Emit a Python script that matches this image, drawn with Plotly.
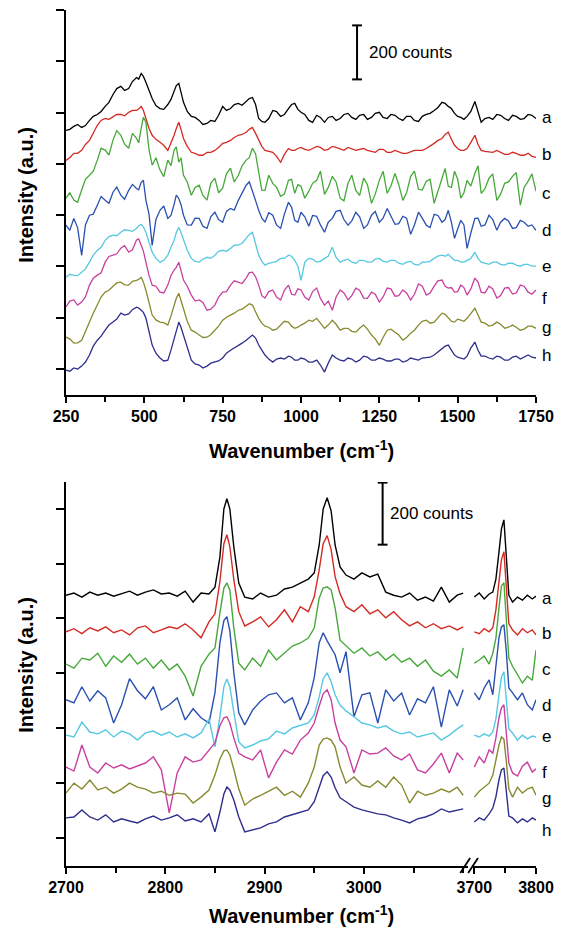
import plotly.graph_objects as go

# ---------------- data ----------------
LABELS = ["a", "b", "c", "d", "e", "f", "g", "h"]
COLORS = ["#000000", "#d42a24", "#47a83a", "#2a50b0", "#55c8e2", "#c8409f", "#878a2e", "#2e2e8c"]

# Top panel: 250-1750 cm-1 (counts, relative to each trace's offset)
X_TOP = [250, 275, 300, 325, 350, 375, 400, 425, 450, 475, 490, 505, 525, 550, 575, 595, 610, 625, 650, 675,
         700, 725, 750, 775, 800, 825, 845, 865, 885, 910, 935, 960, 980, 1000, 1025, 1050, 1075, 1100, 1125, 1150,
         1175, 1200, 1225, 1250, 1275, 1300, 1325, 1350, 1375, 1400, 1425, 1450, 1470, 1490, 1510, 1530, 1555, 1575,
         1600, 1625, 1650, 1675, 1700, 1725, 1750]
X_TOP_MID = [262, 287, 312, 337, 362, 387, 412, 437, 462, 482, 497, 515, 537, 562, 585, 602, 617, 637, 662, 687,
             712, 737, 762, 787, 812, 835, 855, 875, 897, 922, 947, 970, 990, 1012, 1037, 1062, 1087, 1112, 1137,
             1162, 1187, 1212, 1237, 1262, 1287, 1312, 1337, 1362, 1387, 1412, 1437, 1460, 1480, 1500, 1520, 1542,
             1565, 1587, 1612, 1637, 1662, 1687, 1712, 1737]

TOP_A = [0, 15, 11, 37, 59, 89, 133, 163, 155, 196, 211, 178, 118, 81, 96, 148, 174, 104, 52, 37,
         26, 33, 89, 81, 100, 107, 122, 44, 30, 74, 52, 81, 100, 67, 37, 56, 30, 52, 44, 63,
         41, 59, 48, 67, 44, 56, 37, 52, 33, 59, 74, 104, 89, 63, 48, 52, 107, 30, 48, 59, 44, 56, 41, 59, 44]
TOP_A_MID = [4, 22, 18, 52, 70, 104, 155, 148, 181, 190, 200, 150, 92, 78, 115, 166, 140, 70, 48, 22,
             37, 56, 74, 96, 93, 118, 96, 33, 44, 70, 59, 96, 78, 59, 30, 48, 48, 37, 59, 48,
             56, 41, 63, 48, 59, 44, 52, 37, 52, 63, 85, 100, 81, 52, 41, 70, 67, 44, 41, 56, 37, 52, 44, 56]
TOP_B = [0, 26, 37, 74, 130, 155, 163, 170, 178, 185, 200, 155, 93, 67, 37, 93, 141, 81, 30, 19,
         30, 37, 63, 74, 93, 104, 122, 74, 37, 30, -7, 44, 37, 48, 37, 52, 37, 52, 41, 48,
         37, 44, 33, 41, 30, 37, 26, 33, 37, 44, 63, 81, 104, 56, 37, 44, 93, 37, 30, 37, 22, 30, 19, 26, 11]
TOP_B_MID = [10, 26, 59, 100, 148, 152, 170, 165, 185, 190, 185, 118, 78, 56, 63, 118, 115, 52, 26, 19,
             30, 48, 67, 85, 96, 115, 100, 52, 33, 15, 22, 37, 44, 41, 44, 48, 41, 48, 37, 44,
             41, 37, 30, 41, 30, 33, 26, 37, 37, 52, 74, 96, 78, 44, 37, 67, 59, 33, 30, 30, 22, 26, 19, 15]
TOP_C = [0, -7, 30, 85, 141, 178, 215, 233, 185, 222, 259, 281, 122, 104, 141, 178, 133, 85, 11, 48,
         -7, 74, 37, 111, 85, 141, 185, 96, 29, 55, 7, 66, 18, 44, 26, 66, 14, 81, 0, 55,
         29, 74, -19, 66, 18, 92, -8, 81, 33, 63, -19, 74, 44, 100, 0, 66, 92, 18, 74, -8, 55, 81, -26, 63, 26]
TOP_C_MID = [20, -15, 70, 100, 185, 160, 250, 200, 240, 205, 300, 180, 150, 80, 120, 190, 150, 60, 40, 10,
             55, 20, 90, 60, 120, 150, 165, 30, 85, 40, 15, 70, 50, 0, 55, 100, 40, 60, -10, 85,
             10, 50, 15, 100, 45, 50, 20, 100, 30, 70, 25, 110, 40, 70, 20, 45, 120, 35, 90, 15, 60, 95, 40, 90]
TOP_D = [19, 44, -93, 56, 93, 111, 141, 130, 148, 155, 178, 111, -56, 74, 44, 96, 118, 56, 19, 44,
         7, 67, 30, 81, 111, 167, 141, 74, 30, 56, 7, 104, 37, 67, 15, 52, -7, 44, 74, 19,
         67, 7, 56, 30, 81, 22, 52, -15, 67, 19, 59, 30, 74, -30, 37, -67, 44, 15, 56, 0, 44, 7, 37, 15, 0]
TOP_D_MID = [0, 10, 20, 60, 125, 100, 160, 115, 170, 150, 185, 60, 40, 90, 55, 130, 95, 20, 45, 15,
             50, 40, 70, 75, 140, 180, 110, 45, 65, 20, 60, 85, 30, 50, 55, 20, 30, 70, 40, 35,
             50, 20, 70, 45, 50, 25, 45, 20, 45, 10, 55, 40, 30, 5, 20, -10, 45, 20, 40, 30, 35, 10, 30, 20]
TOP_E = [-26, -19, -7, 30, 74, 111, 130, 141, 148, 155, 170, 141, 67, 30, 56, 111, 159, 111, 44, 30,
         48, 56, 74, 81, 93, 118, 141, 56, 19, 30, 44, 56, 37, -37, 44, 30, 44, 85, 30, 41,
         26, 37, 30, 44, 30, 37, 22, 33, 19, 30, 44, 56, 59, 37, 30, 37, 67, 30, 22, 30, 19, 26, 15, 22, 15]
TOP_E_MID = [-15, -20, 5, 56, 85, 125, 128, 150, 144, 165, 160, 100, 44, 37, 85, 140, 140, 74, 33, 41,
             44, 70, 70, 93, 100, 133, 96, 33, 26, 33, 44, 52, 15, 30, 41, 33, 52, 48, 37, 30,
             37, 30, 41, 33, 37, 26, 30, 22, 30, 33, 52, 52, 48, 37, 30, 44, 44, 26, 30, 22, 26, 19, 22, 15]
TOP_F = [-7, 19, 11, 74, 111, 159, 185, 211, 196, 241, 222, 159, 74, 48, 74, 130, 159, 93, 37, 19,
         -19, 0, 48, 74, 85, 100, 122, 74, 26, 56, 19, 74, 37, 56, 19, 63, 0, -19, 56, 19,
         63, 26, 48, 11, 63, 33, 56, 19, 78, 37, 70, 93, 63, 48, 74, 37, 100, 48, 70, 26, 63, 41, 74, 48, 56]
TOP_F_MID = [15, 0, 30, 100, 120, 180, 190, 220, 205, 245, 200, 110, 70, 45, 110, 140, 130, 70, 15, 10,
             -15, 30, 50, 90, 80, 120, 105, 35, 50, 30, 55, 40, 60, 30, 50, 25, 15, 30, 45, 35,
             55, 25, 40, 30, 60, 35, 45, 40, 70, 45, 90, 70, 65, 50, 65, 60, 85, 45, 60, 35, 65, 45, 70, 40]
TOP_G = [11, -11, 0, 67, 130, 178, 200, 215, 204, 222, 233, 185, 93, 67, 56, 130, 174, 111, 37, 19,
         11, 37, 74, 93, 111, 126, 130, 81, 52, 37, 56, 67, 44, 56, 74, 81, 44, 74, 37, 44,
         30, 56, 19, -19, 37, 30, 0, 26, 56, 74, 67, 100, 81, 67, 74, 81, 118, 67, 52, 67, 44, 56, 37, 52, 44]
TOP_G_MID = [5, -10, 30, 100, 160, 185, 212, 205, 218, 225, 215, 140, 75, 65, 90, 155, 145, 70, 30, 10,
             20, 52, 85, 100, 115, 135, 105, 63, 48, 41, 70, 52, 48, 63, 70, 63, 56, 59, 44, 33,
             44, 41, 5, 10, 41, 19, 10, 37, 70, 63, 85, 96, 70, 78, 70, 100, 93, 63, 56, 59, 48, 48, 41, 52]
TOP_H = [-4, 4, 11, 52, 107, 144, 174, 207, 204, 229, 218, 189, 89, 41, 33, 115, 174, 126, 33, 15,
         11, 26, 41, 70, 89, 107, 126, 89, 52, 26, 41, 48, 33, 41, 26, 33, -11, 52, 33, 41,
         26, 48, 33, 41, 30, 37, 26, 41, 33, 44, 52, 74, 89, 52, 41, 48, 100, 48, 41, 48, 33, 44, 37, 52, 41]
TOP_H_MID = [-8, 0, 26, 85, 122, 163, 185, 200, 220, 226, 210, 140, 59, 30, 70, 148, 155, 74, 19, 4,
             22, 30, 59, 78, 96, 118, 115, 70, 37, 37, 37, 44, 33, 37, 26, 15, 22, 41, 30, 37,
             33, 44, 33, 37, 30, 37, 30, 37, 41, 44, 63, 85, 70, 44, 37, 78, 70, 48, 37, 44, 33, 48, 44, 44]
TOP_OFFSETS = [884, 773, 633, 514, 366, 237, 107, 0]

# Bottom panel, segment 1: 2700-3100 cm-1
X_BOT1 = [2700, 2708, 2716, 2724, 2732, 2740, 2748, 2756, 2764, 2772, 2780, 2788, 2796, 2804, 2812, 2820, 2828,
          2836, 2844, 2850, 2855, 2859, 2862, 2865, 2869, 2874, 2880, 2888, 2896, 2904, 2912, 2920, 2928, 2936,
          2944, 2950, 2955, 2959, 2963, 2967, 2971, 2976, 2982, 2990, 2998, 3006, 3014, 3022, 3030, 3038, 3046,
          3054, 3062, 3070, 3078, 3086, 3094, 3100]
BOT1_A = [6, 13, 0, 16, 6, 13, 3, 10, 19, 6, 16, 23, 10, 13, 3, 19, -16, 13, 10, 32, 129, 284, 317, 284, 162, 45, 0,
          -6, 13, 0, 6, 26, 32, 45, 58, 78, 168, 284, 320, 278, 168, 97, 71, 58, 78, 65, 74, 16, 6, 0, 13, -10, 0,
          -13, 32, -16, 6, 13]
BOT1_B = [0, 10, -6, 13, 3, 16, -3, 6, -10, 13, 19, -3, 6, 16, 10, 26, 6, -19, 32, 58, 162, 284, 313, 275, 168, 65,
          19, 32, 48, 16, 39, 71, 32, 81, 65, 113, 200, 284, 310, 265, 178, 123, 81, 65, 87, 58, 71, 45, 65, 39, 19,
          32, 13, 26, 10, 19, 6, 16]
BOT1_C = [13, 0, 32, 26, 48, 6, 39, 19, 45, 13, 32, 0, 26, -6, 13, -26, -90, 6, 45, 65, 178, 258, 275, 252, 129, 16,
          -6, 32, 6, 58, 26, 48, 71, 81, 97, 129, 226, 258, 262, 252, 194, 90, 71, 48, 65, 39, 52, 26, 45, 19, 32,
          6, 26, -10, -26, -6, -32, 65]
BOT1_D = [10, 0, 52, 6, 39, 16, -65, -6, 78, 39, 13, 52, -23, -6, 16, -55, -19, -48, -65, 32, 194, 265, 278, 233,
          97, -32, -71, -23, 6, 26, 32, 0, 16, -55, 0, 81, 194, 226, 200, 178, 155, 97, 165, -45, 26, 32, -65, 42,
          6, 32, -39, 13, 0, 52, -78, 42, -10, 42]
BOT1_E = [6, 0, 48, 16, 10, 23, 0, 19, 10, -10, 13, 19, 6, 16, 0, 10, -3, 13, 58, -32, 65, 162, 187, 162, 81, -16,
          -35, -26, -13, -6, 19, 10, 29, 36, 45, 71, 129, 187, 207, 178, 136, 103, 84, 65, 45, 39, 29, 36, 19, 10,
          16, 0, 6, 13, -10, 6, 26, 39]
BOT1_F = [3, -10, 74, 3, -16, 16, 0, 10, -3, 6, 16, 36, -6, -145, -16, 36, 19, 26, 58, 81, 136, 162, 165, 145, 97,
          48, 36, 26, 58, -32, 19, 58, 45, 90, 113, 145, 200, 239, 252, 220, 145, 90, 68, -16, 58, 45, 48, 65, 39,
          26, 45, -6, -16, 13, 48, -16, 48, 26]
BOT1_G = [13, 45, 26, 55, 23, 32, 13, 26, 45, 32, 26, 13, 19, 6, 13, 10, -19, 0, 23, 71, 123, 149, 152, 136, 90,
          26, -26, -6, 6, 19, 32, 6, 19, 0, 45, 97, 168, 187, 191, 184, 162, 97, 45, 65, 39, 32, 52, 32, 65, 39,
          -19, 19, 6, 13, 26, 16, 32, 6]
BOT1_H = [13, 16, 39, 16, 6, 23, 0, 10, 3, -3, 10, 19, 6, 13, 23, 3, 10, 0, 26, -32, 32, 90, 113, 103, 71, 16, -32,
          -26, -19, -6, 0, 16, 23, 32, 39, 65, 113, 149, 162, 145, 110, 78, 65, 48, 39, 32, 26, 23, 13, 6, -3, 10,
          16, 26, 42, 32, 39, 42]

# Bottom panel, segment 2: 3700-3800 cm-1
X_BOT2 = [3700, 3708, 3716, 3724, 3730, 3735, 3740, 3744, 3748, 3752, 3756, 3762, 3770, 3778, 3786, 3794, 3800]
BOT2_A = [0, 13, -6, 10, 16, 58, 145, 220, 249, 129, 6, -16, 0, -10, 6, -6, 3]
BOT2_B = [0, -6, 10, 0, 13, 71, 162, 233, 258, 145, 26, 6, -10, 10, -3, 6, -10]
BOT2_C = [16, 26, 39, 13, 48, 97, 194, 265, 275, 162, 32, 6, -19, -48, -26, -39, 58]
BOT2_D = [32, 10, 48, 74, 26, 129, 210, 245, 252, 162, 48, 32, 10, 32, -6, -23, 10]
BOT2_E = [6, 0, 10, 3, 16, 58, 136, 194, 210, 123, 26, 13, -10, 6, -6, 3, 0]
BOT2_F = [3, 36, 16, 58, 48, 97, 162, 194, 204, 113, 16, -16, -26, 6, 19, -13, -3]
BOT2_G = [0, 19, 32, 45, 71, 123, 168, 194, 187, 113, 26, 0, 32, 13, 26, 32, 6]
BOT2_H = [0, 13, 6, 26, 45, 81, 136, 168, 174, 97, 19, 13, -3, 10, 0, 13, 6]
BOT_OFFSETS = [777, 665, 548, 436, 326, 226, 132, 52]

TOP_SERIES = [TOP_A, TOP_B, TOP_C, TOP_D, TOP_E, TOP_F, TOP_G, TOP_H]
TOP_MID_SERIES = [TOP_A_MID, TOP_B_MID, TOP_C_MID, TOP_D_MID, TOP_E_MID, TOP_F_MID, TOP_G_MID, TOP_H_MID]
BOT1_SERIES = [BOT1_A, BOT1_B, BOT1_C, BOT1_D, BOT1_E, BOT1_F, BOT1_G, BOT1_H]
BOT2_SERIES = [BOT2_A, BOT2_B, BOT2_C, BOT2_D, BOT2_E, BOT2_F, BOT2_G, BOT2_H]

TOP_XTICKS = [250, 500, 750, 1000, 1250, 1500, 1750]
BOT1_XTICKS = [2700, 2800, 2900, 3000]
BOT2_XTICKS = [3700, 3800]
SCALE_COUNTS = 200

# ---------------- layout constants ----------------
W, H = 564, 932
ML, MR, MT, MB = 66, 20, 10, 66
PW, PH = W - ML - MR, H - MT - MB
FONT = "Liberation Sans, Arial, sans-serif"


def px(x):
    return (x - ML) / PW


def py(y):
    return (H - MB - y) / PH


TOP_LABEL_Y = [932, 796, 651, 514, 381, 263, 155, 52]
BOT_LABEL_Y = [774, 661, 542, 429, 326, 213, 129, 26]

fig = go.Figure()
for i in range(8):
    pts = sorted(zip(X_TOP + X_TOP_MID, TOP_SERIES[i] + TOP_MID_SERIES[i]))
    fig.add_trace(go.Scatter(x=[p[0] for p in pts], y=[p[1] + TOP_OFFSETS[i] for p in pts], mode="lines",
                             line=dict(color=COLORS[i], width=1.3), xaxis="x", yaxis="y",
                             showlegend=False, hoverinfo="skip"))
    fig.add_trace(go.Scatter(x=X_BOT1, y=[v + BOT_OFFSETS[i] for v in BOT1_SERIES[i]], mode="lines",
                             line=dict(color=COLORS[i], width=1.4), xaxis="x2", yaxis="y2",
                             showlegend=False, hoverinfo="skip"))
    fig.add_trace(go.Scatter(x=X_BOT2, y=[v + BOT_OFFSETS[i] for v in BOT2_SERIES[i]], mode="lines",
                             line=dict(color=COLORS[i], width=1.4), xaxis="x3", yaxis="y2",
                             showlegend=False, hoverinfo="skip"))

tickfont = dict(family=FONT, size=16, color="black", weight="bold")
axis_common = dict(showline=True, linecolor="black", linewidth=2, ticks="outside", tickcolor="black",
                   tickwidth=1.5, showgrid=False, zeroline=False, fixedrange=True)

top_dom = [py(395), 1.0]
bot_dom = [0.0, py(482)]
seg1_end = px(475)
seg2_start = px(480)

fig.update_layout(
    width=W, height=H, margin=dict(l=ML, r=MR, t=MT, b=MB),
    paper_bgcolor="white", plot_bgcolor="white", hovermode=False,
    xaxis=dict(domain=[0, 1], range=[250, 1750], anchor="y", tickvals=TOP_XTICKS, ticklen=6,
               tickfont=tickfont,
               minor=dict(ticks="outside", ticklen=5, tickwidth=1.5, tickcolor="black", dtick=125, tick0=250,
                          showgrid=False),
               **axis_common),
    yaxis=dict(domain=top_dom, range=[-96, 1330], anchor="x", tickvals=[k * 190 for k in range(8)],
               showticklabels=False, ticklen=8, **axis_common),
    xaxis2=dict(domain=[0, seg1_end], range=[2700, 3105], anchor="y2", tickvals=BOT1_XTICKS, ticklen=6,
                tickfont=tickfont,
                minor=dict(ticks="outside", ticklen=5, tickwidth=1.5, tickcolor="black", dtick=50, tick0=2700,
                           showgrid=False),
                **axis_common),
    xaxis3=dict(domain=[seg2_start, 1], range=[3698, 3800], anchor="y2", tickvals=BOT2_XTICKS, ticklen=6,
                tickfont=tickfont,
                minor=dict(ticks="outside", ticklen=5, tickwidth=1.5, tickcolor="black", dtick=50, tick0=3700,
                           showgrid=False),
                **axis_common),
    yaxis2=dict(domain=bot_dom, range=[-90, 1148], anchor="x2", tickvals=[k * 177 for k in range(7)],
                showticklabels=False, ticklen=8, **axis_common),
)

ann = []
title_font = dict(family=FONT, size=20, color="black", weight="bold")
for yc in (449, 914):
    ann.append(dict(text="Wavenumber (cm<sup>-1</sup>)", x=px(305), y=py(yc), xref="paper", yref="paper",
                    xanchor="center", yanchor="middle", showarrow=False, font=title_font))
for yc in (195, 665):
    ann.append(dict(text="Intensity (a.u.)", x=px(25), y=py(yc), xref="paper", yref="paper", textangle=-90,
                    xanchor="center", yanchor="middle", showarrow=False, font=title_font))
lab_font = dict(family=FONT, size=17, color="black")
for i, lab in enumerate(LABELS):
    ann.append(dict(text=lab, x=px(548), y=TOP_LABEL_Y[i], xref="paper", yref="y", xanchor="left",
                    yanchor="middle", showarrow=False, font=lab_font))
    ann.append(dict(text=lab, x=px(548), y=BOT_LABEL_Y[i], xref="paper", yref="y2", xanchor="left",
                    yanchor="middle", showarrow=False, font=lab_font))

shapes = []
# scale bars: (x pixel, yref, bottom value, text x pixel)
for xb, yref, y0, xt in ((362, "y", 1073, 372), (388, "y2", 946, 393)):
    y1 = y0 + SCALE_COUNTS
    xs = px(xb)
    cap = 5 / PW
    ln = dict(color="black", width=2)
    shapes.append(dict(type="line", xref="paper", yref=yref, x0=xs, x1=xs, y0=y0, y1=y1, line=ln))
    shapes.append(dict(type="line", xref="paper", yref=yref, x0=xs - cap, x1=xs + cap, y0=y0, y1=y0, line=ln))
    shapes.append(dict(type="line", xref="paper", yref=yref, x0=xs - cap, x1=xs + cap, y0=y1, y1=y1, line=ln))
    ann.append(dict(text=f"{SCALE_COUNTS} counts", x=px(xt), y=(y0 + y1) / 2, xref="paper", yref=yref,
                    xanchor="left", yanchor="middle", showarrow=False,
                    font=dict(family=FONT, size=17, color="black")))

# axis break marks
for x0p, x1p in ((467, 477), (475, 485)):
    shapes.append(dict(type="line", xref="paper", yref="paper", x0=px(x0p), x1=px(x1p), y0=py(873), y1=py(858),
                       line=dict(color="black", width=1.8)))

fig.update_layout(annotations=ann, shapes=shapes)
fig.write_html("out.html", config={"displayModeBar": False})
